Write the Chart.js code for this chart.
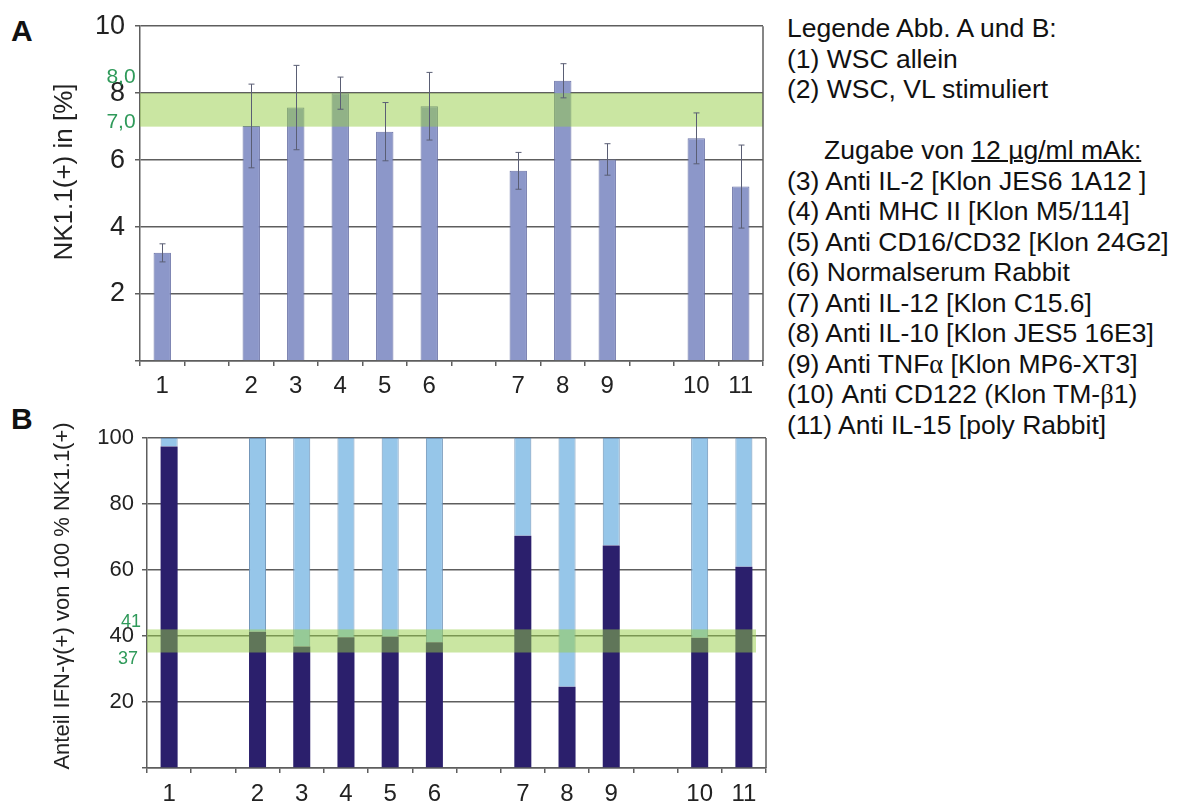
<!DOCTYPE html>
<html>
<head>
<meta charset="utf-8">
<script src="https://cdn.jsdelivr.net/npm/chart.js@4.4.0/dist/chart.umd.min.js"></script>
<style>
  html, body { margin: 0; padding: 0; background: #fff; }
  body { width: 1181px; height: 806px; position: relative; overflow: hidden; font-family: 'Liberation Sans', Arial, sans-serif; color: #111; }
  canvas { position: absolute; left: 0; }
  #cA { top: 0; }
  #cB { top: 410px; }
  .panel { position: absolute; left: 11px; font-weight: bold; font-size: 30px; line-height: 30px; }
  #legend { position: absolute; left: 787px; top: 13px; font-size: 26.5px; line-height: 30.5px; white-space: pre; }
  #legend .ind { padding-left: 37px; }
  #legend u { text-decoration-thickness: 2px; }
  .gr { font-family: 'Liberation Serif', 'DejaVu Serif', serif; }
</style>
</head>
<body>
<div class="panel" style="top:16px">A</div>
<div class="panel" style="top:404px">B</div>
<canvas id="cA" width="780" height="410"></canvas>
<canvas id="cB" width="780" height="396"></canvas>
<div id="legend"></div>
<script>
// ---- data ----
const categories = ['1', '', '2', '3', '4', '5', '6', '', '7', '8', '9', '', '10', '11'];
const nkValues   = [3.23, null, 7.02, 7.57, 8.00, 6.85, 7.61, null, 5.68, 8.37, 6.02, null, 6.65, 5.21];
const nkErrors   = [0.27, null, 1.25, 1.26, 0.48, 0.87, 1.01, null, 0.55, 0.51, 0.47, null, 0.76, 1.24];
const ifnPositive = [97.4, null, 41.3, 36.8, 39.6, 39.8, 38.1, null, 70.4, 24.6, 67.4, null, 39.5, 61.0];
const ifnNegative = [2.6, null, 58.7, 63.2, 60.4, 60.2, 61.9, null, 29.6, 75.4, 32.6, null, 60.5, 39.0];
const bandA = [7.0, 8.0];
const bandALabels = ['7,0', '8,0'];
const bandB = [35, 42];
const bandBLabels = ['37', '41'];
const yTicksA = [0, 10, 2];
const yTicksB = [0, 100, 20];
const titleA = 'NK1.1(+) in [%]';
const titleB = 'Anteil IFN-\u03b3(+) von 100 % NK1.1(+)';
const legendLines = [
  'Legende Abb. A und B:',
  '(1) WSC allein',
  '(2) WSC, VL stimuliert',
  '',
  '<span class="ind">Zugabe von <u>12 \u00b5g/ml mAk:</u></span>',
  '(3) Anti IL-2 [Klon JES6 1A12 ]',
  '(4) Anti MHC II [Klon M5/114]',
  '(5) Anti CD16/CD32 [Klon 24G2]',
  '(6) Normalserum Rabbit',
  '(7) Anti IL-12 [Klon C15.6]',
  '(8) Anti IL-10 [Klon JES5 16E3]',
  '(9) Anti TNF<span class="gr">\u03b1</span> [Klon MP6-XT3]',
  '(10) Anti CD122 (Klon TM-<span class="gr">\u03b2</span>1)',
  '(11) Anti IL-15 [poly Rabbit]'
];
document.getElementById('legend').innerHTML = legendLines.join('\n');

// ---- styling ----
Chart.defaults.font.family = "'Liberation Sans', Arial, sans-serif";
Chart.defaults.color = '#222';
const GRID = '#5e5e5e';
const GREEN_FILL = 'rgba(150,205,70,0.5)';
const GREEN_TEXT = '#2f9a5a';

function decorPlugin(cfg) {
  return {
    id: 'decor' + cfg.id,
    afterDatasetsDraw(chart) {
      const { ctx, chartArea: a, scales: { y } } = chart;
      ctx.save();
      // band
      const yt = y.getPixelForValue(cfg.band[1]);
      const yb = y.getPixelForValue(cfg.band[0]);
      ctx.fillStyle = GREEN_FILL;
      ctx.fillRect(a.left, yt, (a.right - cfg.bandInset) - a.left, yb - yt);
      // error bars
      if (cfg.values) {
        const meta = chart.getDatasetMeta(0);
        ctx.strokeStyle = '#5a5e74';
        ctx.lineWidth = 1;
        cfg.values.forEach((v, i) => {
          if (v == null) return;
          const e = cfg.errors[i];
          const px = Math.round(meta.data[i].x) + 0.5;
          const p1 = y.getPixelForValue(v + e), p2 = y.getPixelForValue(v - e);
          ctx.beginPath();
          ctx.moveTo(px, p1); ctx.lineTo(px, p2);
          ctx.moveTo(px - 3, p1); ctx.lineTo(px + 3, p1);
          ctx.moveTo(px - 3, p2); ctx.lineTo(px + 3, p2);
          ctx.stroke();
        });
      }
      // right frame
      ctx.strokeStyle = GRID;
      ctx.lineWidth = 1.5;
      ctx.beginPath();
      ctx.moveTo(a.right, a.top); ctx.lineTo(a.right, a.bottom);
      ctx.stroke();
      ctx.restore();
    },
    afterDraw(chart) {
      const { ctx, scales: { y } } = chart;
      ctx.save();
      // band labels
      ctx.fillStyle = GREEN_TEXT;
      ctx.font = cfg.bandFont + "px 'Liberation Sans', Arial, sans-serif";
      ctx.textAlign = 'center';
      ctx.textBaseline = 'middle';
      ctx.fillText(cfg.bandLabels[1], cfg.bandLabelX[1], y.getPixelForValue(cfg.band[1]) + cfg.bandLabelDy[1]);
      ctx.fillText(cfg.bandLabels[0], cfg.bandLabelX[0], y.getPixelForValue(cfg.band[0]) + cfg.bandLabelDy[0]);
      // axis title
      ctx.fillStyle = '#222';
      ctx.font = cfg.titleFont + "px 'Liberation Sans', Arial, sans-serif";
      ctx.translate(cfg.titleX, cfg.titleY);
      ctx.rotate(-Math.PI / 2);
      ctx.fillText(cfg.title, 0, 0);
      ctx.restore();
    }
  };
}

// ---- chart A ----
new Chart(document.getElementById('cA'), {
  type: 'bar',
  data: {
    labels: categories,
    datasets: [{
      data: nkValues,
      backgroundColor: '#8c97c9',
      borderColor: '#6a72a6',
      borderWidth: 1,
      barPercentage: 0.39,
      categoryPercentage: 1
    }]
  },
  options: {
    responsive: false, animation: false, devicePixelRatio: 1,
    layout: { padding: { left: 0, right: 17, top: 25, bottom: 0 } },
    plugins: { legend: { display: false }, tooltip: { enabled: false } },
    scales: {
      x: {
        grid: { drawOnChartArea: false, drawTicks: true, tickLength: 5, color: GRID, lineWidth: 1.5 },
        border: { color: GRID, width: 1.5 },
        ticks: { font: { size: 24 }, color: '#222', padding: 6, maxRotation: 0, autoSkip: false },
        afterFit: s => { s.height = 49; }
      },
      y: {
        min: yTicksA[0], max: yTicksA[1],
        ticks: { stepSize: yTicksA[2], font: { size: 27 }, color: '#222', padding: 10, callback: v => v === 0 ? '' : v },
        grid: { color: GRID, lineWidth: 1.5, tickLength: 5 },
        border: { color: GRID, width: 1.5 },
        afterFit: s => { s.width = 140; }
      }
    }
  },
  plugins: [decorPlugin({
    id: 'A', band: bandA, bandInset: 0, values: nkValues, errors: nkErrors,
    bandLabels: bandALabels, bandFont: 21, bandLabelX: [121, 121], bandLabelDy: [-4, -16],
    title: titleA, titleFont: 26, titleX: 65, titleY: 172
  })]
});

// ---- chart B ----
new Chart(document.getElementById('cB'), {
  type: 'bar',
  data: {
    labels: categories,
    datasets: [{
      data: ifnPositive,
      backgroundColor: '#2b1f6c',
      borderColor: '#2b1f6c',
      borderWidth: 0,
      barPercentage: 0.385,
      categoryPercentage: 1
    }, {
      data: ifnNegative,
      backgroundColor: '#96c6e9',
      borderColor: '#7094b8',
      borderWidth: 1,
      barPercentage: 0.385,
      categoryPercentage: 1
    }]
  },
  options: {
    responsive: false, animation: false, devicePixelRatio: 1,
    layout: { padding: { left: 0, right: 14, top: 28, bottom: 0 } },
    plugins: { legend: { display: false }, tooltip: { enabled: false } },
    scales: {
      x: {
        stacked: true,
        grid: { drawOnChartArea: false, drawTicks: true, tickLength: 5, color: GRID, lineWidth: 1.5 },
        border: { color: GRID, width: 1.5 },
        ticks: { font: { size: 24 }, color: '#222', padding: 7, maxRotation: 0, autoSkip: false },
        afterFit: s => { s.height = 38; }
      },
      y: {
        stacked: true,
        min: yTicksB[0], max: yTicksB[1],
        ticks: { stepSize: yTicksB[2], font: { size: 22 }, color: '#222', padding: 8, callback: v => v === 0 ? '' : v },
        grid: { color: GRID, lineWidth: 1.5, tickLength: 5 },
        border: { color: GRID, width: 1.5 },
        afterFit: s => { s.width = 147; }
      }
    }
  },
  plugins: [decorPlugin({
    id: 'B', band: bandB, bandInset: 10, values: null, errors: null,
    bandLabels: bandBLabels, bandFont: 18, bandLabelX: [128, 131], bandLabelDy: [6.5, -7],
    title: titleB, titleFont: 22, titleX: 63, titleY: 186
  })]
});
</script>
</body>
</html>
